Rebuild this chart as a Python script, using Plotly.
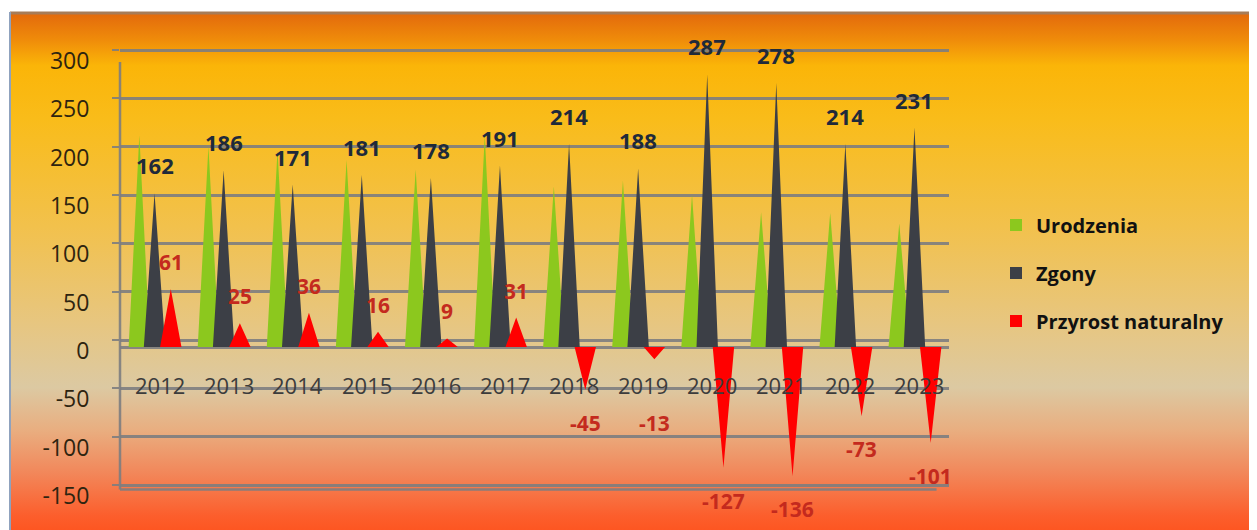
import base64
import plotly.graph_objects as go

# ---------------- data ----------------
years = ["2012", "2013", "2014", "2015", "2016", "2017",
         "2018", "2019", "2020", "2021", "2022", "2023"]
urodzenia = [223, 211, 207, 197, 187, 222, 169, 175, 160, 142, 141, 130]
zgony = [162, 186, 171, 181, 178, 191, 214, 188, 287, 278, 214, 231]
przyrost = [61, 25, 36, 16, 9, 31, -45, -13, -127, -136, -73, -101]
y_ticks = [-150, -100, -50, 0, 50, 100, 150, 200, 250, 300]

series_names = ["Urodzenia", "Zgony", "Przyrost naturalny"]
series_values = [urodzenia, zgony, przyrost]
series_colors = ["#8CC81E", "#3C3F46", "#FF0000"]
series_offsets = [-0.22, 0.0, 0.235]
half_w = 0.155

FONT = "Open Sans"

# figure geometry (page body has an 8px margin)
W, H = 1257, 530
ML, MR, MT, MB = 112, 316, 32, 38
PW, PH = W - ML - MR, H - MT - MB


def px_x(p):   # figure pixel -> plot-domain fraction
    return (p - ML) / PW


def px_y(p):
    return 1 - (p - MT) / PH


# ---------------- background gradient (svg data uri) ----------------
stops = [
    (0.00, "#E2680C"), (0.05, "#EF8A0A"), (0.10, "#FBB508"), (0.20, "#F9BC1A"),
    (0.40, "#F2C14C"), (0.58, "#E7C680"), (0.70, "#DCC9A2"), (0.78, "#E9AE80"),
    (0.86, "#F2875A"), (0.94, "#FC5E2C"), (1.00, "#FF4C14"),
]
stop_xml = "".join(f'<stop offset="{o}" stop-color="{c}"/>' for o, c in stops)
svg = ('<svg xmlns="http://www.w3.org/2000/svg" width="100" height="100" '
       'preserveAspectRatio="none" viewBox="0 0 100 100">'
       '<defs><linearGradient id="g" x1="0" y1="0" x2="0" y2="1">'
       + stop_xml +
       '</linearGradient></defs><rect width="100" height="100" fill="url(#g)"/></svg>')
bg_uri = "data:image/svg+xml;base64," + base64.b64encode(svg.encode()).decode()

fig = go.Figure()

# ---------------- pyramids ----------------
for name, vals, col, off in zip(series_names, series_values, series_colors, series_offsets):
    xs, ys = [], []
    for i, v in enumerate(vals):
        xs += [i + off - half_w, i + off, i + off + half_w, None]
        ys += [0, v, 0, None]
    fig.add_trace(go.Scatter(
        x=xs, y=ys, mode="lines", fill="toself", fillcolor=col,
        line=dict(width=0, color=col), hoverinfo="skip", showlegend=False,
        xaxis="x", yaxis="y2",
    ))

# legend-only traces (on the main y axis so that it is drawn)
for k, (name, col) in enumerate(zip(series_names, series_colors)):
    fig.add_trace(go.Scatter(
        x=[None], y=[None], mode="markers", name=name, legendgroup=f"g{k}",
        marker=dict(symbol="square", size=13, color=col),
        xaxis="x", yaxis="y",
    ))

NEG_LABEL_FLOOR = -45  # negative labels never sit above the year labels

annotations = []
for i, v in enumerate(zgony):
    annotations.append(dict(
        x=i + series_offsets[1], y=v, xref="x", yref="y2", text=f"<b>{v}</b>",
        showarrow=False, yshift=28, font=dict(family=FONT, size=22, color="#1F2A3A"),
    ))
for i, v in enumerate(przyrost):
    annotations.append(dict(
        x=i + series_offsets[2], y=v if v >= 0 else min(v, NEG_LABEL_FLOOR),
        xref="x", yref="y2", text=f"<b>{v}</b>",
        showarrow=False, yshift=27 if v >= 0 else -33,
        font=dict(family=FONT, size=21, color="#C42A1E"),
    ))
for i, yr in enumerate(years):
    annotations.append(dict(
        x=i, y=0, xref="x", yref="y2", text=yr, showarrow=False,
        yshift=-38, xshift=5, font=dict(family=FONT, size=22, color="#3C3C3C"),
    ))

grey = "rgba(125,125,128,0.9)"
shapes = [
    dict(type="line", xref="paper", yref="y2", x0=0, x1=0, y0=-150, y1=300,
         line=dict(color=grey, width=2.5), layer="below"),
    dict(type="line", xref="paper", yref="y2", x0=0, x1=0.985, y0=-150, y1=-150,
         line=dict(color=grey, width=2.5), layer="below"),
    dict(type="line", xref="paper", yref="paper", x0=px_x(2), x1=px_x(W + 10),
         y0=px_y(5), y1=px_y(5), line=dict(color="#A77C58", width=3)),
    dict(type="line", xref="paper", yref="paper", x0=px_x(2), x1=px_x(2),
         y0=px_y(H + 10), y1=px_y(4), line=dict(color="#8FA2BE", width=2)),
]

fig.update_layout(
    width=W, height=H,
    margin=dict(l=ML, r=MR, t=MT, b=MB),
    paper_bgcolor="white",
    plot_bgcolor="rgba(0,0,0,0)",
    images=[dict(source=bg_uri, xref="paper", yref="paper", x=px_x(2), y=px_y(4),
                 sizex=px_x(W + 10) - px_x(2), sizey=px_y(4) - px_y(H + 10),
                 xanchor="left", yanchor="top", sizing="stretch", layer="below")],
    xaxis=dict(range=[-0.5, 11.5], showgrid=False, zeroline=False, showticklabels=False,
               showline=False, fixedrange=True),
    yaxis=dict(range=[-165.5, 310.34], tickvals=y_ticks, ticktext=[str(t) for t in y_ticks],
               showgrid=True, gridcolor=grey, gridwidth=2.5, zeroline=False,
               ticks="outside", ticklen=7, tickcolor=grey, tickwidth=2,
               ticklabelshift=11, ticklabelstandoff=18,
               tickfont=dict(family=FONT, size=23, color="#2E2410")),
    yaxis2=dict(range=[-161.05, 323.2], overlaying="y", showgrid=False, showticklabels=False,
                zeroline=True, zerolinecolor=grey, zerolinewidth=3, ticks=""),
    legend=dict(x=px_x(988), y=px_y(265), xanchor="left", yanchor="middle",
                bgcolor="rgba(0,0,0,0)",
                font=dict(family=FONT, size=20, color="#111111", weight="bold"),
                tracegroupgap=19, itemsizing="constant"),
    annotations=annotations,
    shapes=shapes,
    showlegend=True,
)

fig.write_html("out.html")
